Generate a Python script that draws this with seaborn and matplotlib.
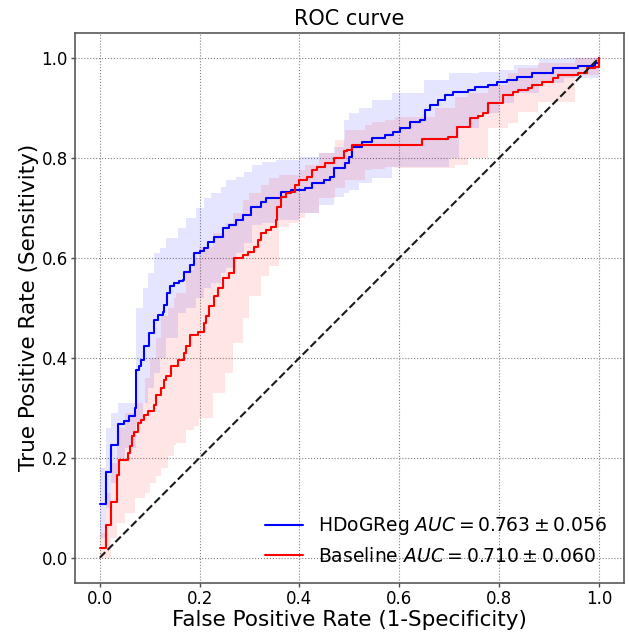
import numpy as np
import pandas as pd
import matplotlib
matplotlib.use("Agg")
import matplotlib.pyplot as plt
import seaborn as sns

# ---- data ----
hd_fpr = [0.0, 0.013, 0.023, 0.036, 0.048, 0.059, 0.071, 0.073, 0.078, 0.083, 0.089, 0.098, 0.109, 0.116,
          0.126, 0.129, 0.135, 0.141, 0.149, 0.159, 0.166, 0.169, 0.181, 0.189, 0.201, 0.209, 0.216, 0.229,
          0.246, 0.259, 0.272, 0.286, 0.302, 0.322, 0.332, 0.362, 0.382, 0.412, 0.425, 0.449, 0.462, 0.469,
          0.492, 0.499, 0.505, 0.525, 0.545, 0.572, 0.588, 0.602, 0.622, 0.642, 0.652, 0.662, 0.678, 0.692,
          0.708, 0.738, 0.752, 0.778, 0.795, 0.815, 0.835, 0.865, 0.908, 0.958, 0.991, 1.0]
hd_tpr = [0.108, 0.172, 0.225, 0.268, 0.274, 0.283, 0.299, 0.376, 0.383, 0.396, 0.423, 0.449, 0.476, 0.486,
          0.491, 0.506, 0.529, 0.543, 0.549, 0.553, 0.556, 0.571, 0.586, 0.609, 0.613, 0.619, 0.632, 0.642,
          0.659, 0.666, 0.676, 0.686, 0.702, 0.712, 0.719, 0.732, 0.736, 0.739, 0.749, 0.756, 0.762, 0.779,
          0.789, 0.802, 0.822, 0.832, 0.839, 0.846, 0.852, 0.859, 0.872, 0.876, 0.896, 0.906, 0.916, 0.926,
          0.932, 0.936, 0.942, 0.946, 0.951, 0.956, 0.962, 0.969, 0.979, 0.984, 0.989, 1.0]

bl_fpr = [0.0, 0.013, 0.023, 0.035, 0.038, 0.056, 0.061, 0.064, 0.069, 0.077, 0.083, 0.088, 0.096, 0.108,
          0.113, 0.123, 0.129, 0.133, 0.143, 0.156, 0.168, 0.173, 0.181, 0.196, 0.208, 0.212, 0.219, 0.229,
          0.236, 0.246, 0.259, 0.269, 0.286, 0.296, 0.309, 0.316, 0.322, 0.332, 0.342, 0.352, 0.355, 0.362,
          0.372, 0.382, 0.392, 0.399, 0.415, 0.425, 0.435, 0.452, 0.469, 0.489, 0.495, 0.505, 0.645, 0.698,
          0.715, 0.741, 0.758, 0.768, 0.778, 0.808, 0.828, 0.838, 0.858, 0.865, 0.885, 0.908, 0.918, 0.958,
          0.975, 0.991, 1.0]
bl_tpr = [0.019, 0.065, 0.111, 0.166, 0.196, 0.21, 0.223, 0.243, 0.251, 0.27, 0.276, 0.286, 0.293, 0.306,
          0.326, 0.34, 0.356, 0.363, 0.383, 0.396, 0.41, 0.423, 0.446, 0.451, 0.469, 0.483, 0.503, 0.523,
          0.539, 0.559, 0.569, 0.599, 0.606, 0.612, 0.622, 0.636, 0.649, 0.656, 0.662, 0.676, 0.702, 0.722,
          0.729, 0.732, 0.746, 0.756, 0.762, 0.776, 0.782, 0.789, 0.799, 0.814, 0.816, 0.826, 0.838, 0.842,
          0.862, 0.879, 0.884, 0.889, 0.909, 0.925, 0.932, 0.936, 0.939, 0.946, 0.952, 0.959, 0.966, 0.969,
          0.979, 0.981, 1.0]

hd_band_fpr = [0.0, 0.013, 0.023, 0.036, 0.05, 0.073, 0.086, 0.096, 0.109, 0.12, 0.133, 0.156, 0.173, 0.193,
               0.209, 0.222, 0.242, 0.252, 0.272, 0.289, 0.305, 0.325, 0.352, 0.40, 0.44, 0.47, 0.49, 0.50,
               0.52, 0.545, 0.585, 0.65, 0.70, 0.72, 0.76, 0.80, 0.83, 0.88, 0.93, 1.0]
hd_band_lo = [0.04, 0.10, 0.15, 0.20, 0.22, 0.27, 0.31, 0.34, 0.37, 0.40, 0.44, 0.49, 0.50, 0.52,
              0.54, 0.55, 0.57, 0.58, 0.61, 0.63, 0.665, 0.67, 0.676, 0.69, 0.706, 0.722, 0.73, 0.736,
              0.75, 0.76, 0.782, 0.782, 0.80, 0.86, 0.89, 0.91, 0.93, 0.95, 0.96, 0.98]
hd_band_hi = [0.18, 0.26, 0.29, 0.31, 0.31, 0.50, 0.54, 0.57, 0.61, 0.62, 0.64, 0.66, 0.68, 0.70,
              0.72, 0.73, 0.742, 0.756, 0.762, 0.772, 0.786, 0.792, 0.796, 0.801, 0.81, 0.822, 0.876, 0.89,
              0.90, 0.916, 0.93, 0.956, 0.969, 0.970, 0.972, 0.975, 0.985, 0.997, 1.0, 1.0]

bl_band_fpr = [0.0, 0.013, 0.023, 0.035, 0.05, 0.07, 0.09, 0.1, 0.113, 0.123, 0.136, 0.149, 0.153, 0.173,
               0.189, 0.199, 0.226, 0.25, 0.266, 0.286, 0.299, 0.322, 0.339, 0.359, 0.379, 0.399, 0.412,
               0.44, 0.472, 0.492, 0.532, 0.545, 0.572, 0.592, 0.672, 0.712, 0.738, 0.778, 0.818, 0.838,
               0.878, 0.951, 1.0]
bl_band_lo = [0.0, 0.0, 0.04, 0.07, 0.09, 0.12, 0.13, 0.15, 0.163, 0.18, 0.203, 0.226, 0.23, 0.256,
              0.263, 0.28, 0.33, 0.37, 0.43, 0.48, 0.523, 0.563, 0.583, 0.662, 0.67, 0.679, 0.69,
              0.72, 0.74, 0.756, 0.776, 0.778, 0.782, 0.78, 0.779, 0.785, 0.799, 0.86, 0.87, 0.892,
              0.912, 0.965, 0.979]
bl_band_hi = [0.05, 0.13, 0.19, 0.26, 0.29, 0.31, 0.36, 0.40, 0.44, 0.483, 0.50, 0.52, 0.529, 0.576,
              0.60, 0.622, 0.649, 0.67, 0.689, 0.716, 0.73, 0.745, 0.759, 0.766, 0.766, 0.776, 0.786,
              0.81, 0.836, 0.855, 0.866, 0.872, 0.876, 0.882, 0.90, 0.922, 0.93, 0.946, 0.97, 0.979,
              0.989, 1.0, 1.0]

labels = ["HDoGReg $AUC = 0.763 \\pm 0.056$", "Baseline $AUC = 0.710 \\pm 0.060$"]
ticks = [0.0, 0.2, 0.4, 0.6, 0.8, 1.0]

# ---- plot ----
sns.set_theme(style="white")
plt.rcParams["font.family"] = ["DejaVu Sans"]
plt.rcParams["text.color"] = "black"
plt.rcParams["axes.labelcolor"] = "black"
plt.rcParams["xtick.color"] = "black"
plt.rcParams["ytick.color"] = "black"

fig = plt.figure(figsize=(6.29, 6.34), dpi=100)
ax = fig.add_axes([0.119, 0.081, 0.873, 0.867])

ax.fill_between(hd_band_fpr, hd_band_lo, hd_band_hi, step="post", color="blue", alpha=0.1, lw=0)
ax.fill_between(bl_band_fpr, bl_band_lo, bl_band_hi, step="post", color="red", alpha=0.1, lw=0)

df_hd = pd.DataFrame({"fpr": hd_fpr, "tpr": hd_tpr})
df_bl = pd.DataFrame({"fpr": bl_fpr, "tpr": bl_tpr})
sns.lineplot(data=df_hd, x="fpr", y="tpr", ax=ax, color="blue", lw=1.5,
             drawstyle="steps-post", label=labels[0], estimator=None, sort=False)
sns.lineplot(data=df_bl, x="fpr", y="tpr", ax=ax, color="red", lw=1.5,
             drawstyle="steps-post", label=labels[1], estimator=None, sort=False)
ax.plot([0, 1], [0, 1], "k--", lw=1.5)

ax.set_xlim(-0.05, 1.05)
ax.set_ylim(-0.05, 1.05)
ax.set_xticks(ticks)
ax.set_yticks(ticks)
ax.set_xticklabels([f"{t:.1f}" for t in ticks], fontsize=12)
ax.set_yticklabels([f"{t:.1f}" for t in ticks], fontsize=12)
ax.tick_params(axis="both", which="both", length=3, width=1, pad=2, color="0.3",
               labelcolor="black", bottom=True, left=True)
ax.grid(True, linestyle=":", color="gray", lw=0.8)
for s in ax.spines.values():
    s.set_color("0.35")
    s.set_linewidth(1.2)

ax.set_title("ROC curve", fontsize=15, color="black")
ax.set_xlabel("False Positive Rate (1-Specificity)", fontsize=15.5, labelpad=2, color="black")
ax.set_ylabel("True Positive Rate (Sensitivity)", fontsize=15.5, labelpad=2, color="black")
ax.legend(loc="lower right", frameon=False, fontsize=13.5)

fig.savefig("out.png", dpi=100)
